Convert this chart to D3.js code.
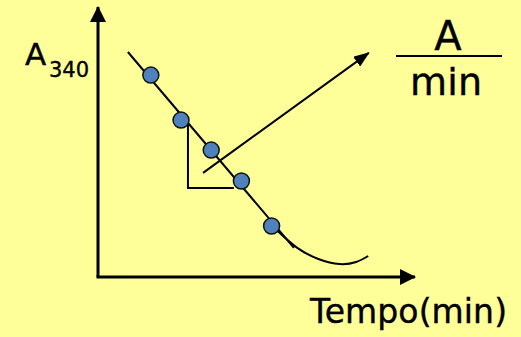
<!DOCTYPE html>
<html>
<head>
<meta charset="utf-8">
<script src="https://cdn.jsdelivr.net/npm/d3@7"></script>
<style>
  html, body { margin: 0; padding: 0; background: #ffff99; }
  svg { display: block; }
  text { font-family: "Comic Sans MS", "DejaVu Sans", sans-serif; fill: #000; stroke: #000; stroke-width: 0.4; }
</style>
</head>
<body>
<svg id="chart"></svg>
<script>
// measured points (time, absorbance at 340 nm)
const tempo = [1.75, 2.75, 3.75, 4.75, 5.75];
const absorb = [6.73, 5.23, 4.23, 3.2, 1.7];

// fitted straight line
const fitT = [0.99, 6.49];
const fitA = [7.5, 0.97];

// curve after the linear part
const curveT = [5.95, 6.6, 7.3, 8.0, 8.55, 8.95];
const curveA = [1.53, 0.97, 0.6, 0.43, 0.5, 0.7];

// slope triangle
const triT = [2.98, 2.98, 4.5];
const triA = [5.07, 2.97, 2.97];

// arrow pointing to the units
const arrowT = [3.48, 8.97];
const arrowA = [3.47, 7.47];

const w = 521, h = 337;

let x = d3.scaleLinear().domain([0, 10.5]).range([98, 415]);
let y = d3.scaleLinear().domain([0, 9]).range([277, 7]);

let svg = d3.select("#chart").attr("width", w).attr("height", h);

svg.append("rect").attr("width", w).attr("height", h).attr("fill", "#ffff99");

let defs = svg.append("defs");
defs.append("marker")
  .attr("id", "axisHead")
  .attr("viewBox", "0 0 16 16")
  .attr("refX", 15).attr("refY", 8)
  .attr("markerUnits", "userSpaceOnUse")
  .attr("markerWidth", 16).attr("markerHeight", 16)
  .attr("orient", "auto")
  .append("path").attr("d", "M0,0 L16,8 L0,16 Z").attr("fill", "#000");
defs.append("marker")
  .attr("id", "smallHead")
  .attr("viewBox", "0 0 16 12")
  .attr("refX", 15).attr("refY", 6)
  .attr("markerUnits", "userSpaceOnUse")
  .attr("markerWidth", 16).attr("markerHeight", 12)
  .attr("orient", "auto")
  .append("path").attr("d", "M0,0 L16,6 L0,12 Z").attr("fill", "#000");

/* axes */
svg.append("line")
  .attr("x1", x(0)).attr("y1", y(0))
  .attr("x2", x(0)).attr("y2", y(9))
  .attr("stroke", "#000").attr("stroke-width", 3)
  .attr("marker-end", "url(#axisHead)");
svg.append("line")
  .attr("x1", x(0) - 1.5).attr("y1", y(0))
  .attr("x2", x(10.5)).attr("y2", y(0))
  .attr("stroke", "#000").attr("stroke-width", 3)
  .attr("marker-end", "url(#axisHead)");

let line = d3.line().x(d => x(d[0])).y(d => y(d[1]));

/* fitted line */
svg.append("path")
  .attr("d", line(d3.zip(fitT, fitA)))
  .attr("fill", "none").attr("stroke", "#000").attr("stroke-width", 2);

/* curve */
svg.append("path")
  .attr("d", line.curve(d3.curveNatural)(d3.zip(curveT, curveA)))
  .attr("fill", "none").attr("stroke", "#000").attr("stroke-width", 2);
line.curve(d3.curveLinear);

/* slope triangle */
svg.append("path")
  .attr("d", line(d3.zip(triT, triA)))
  .attr("fill", "none").attr("stroke", "#000").attr("stroke-width", 2);

/* arrow */
svg.append("path")
  .attr("d", line(d3.zip(arrowT, arrowA)))
  .attr("fill", "none").attr("stroke", "#000").attr("stroke-width", 2)
  .attr("marker-end", "url(#smallHead)");

/* points */
svg.selectAll("circle.pt")
  .data(d3.zip(tempo, absorb))
  .enter()
  .append("circle")
  .attr("class", "pt")
  .attr("cx", d => x(d[0]))
  .attr("cy", d => y(d[1]))
  .attr("r", 8)
  .attr("fill", "#4f81bd")
  .attr("stroke", "#111")
  .attr("stroke-width", 1.5);

/* labels */
svg.append("text").attr("x", 25).attr("y", 65)
  .attr("font-size", 31).text("A");
svg.append("text").attr("x", 49).attr("y", 77)
  .attr("font-size", 21).text("340");

svg.append("text").attr("x", 310).attr("y", 323)
  .attr("font-size", 33).attr("textLength", 197).text("Tempo(min)");

svg.append("text").attr("x", 448).attr("y", 50)
  .attr("text-anchor", "middle").attr("font-size", 40).text("A");
svg.append("line")
  .attr("x1", 396).attr("y1", 56).attr("x2", 502).attr("y2", 56)
  .attr("stroke", "#000").attr("stroke-width", 2);
svg.append("text").attr("x", 410).attr("y", 95)
  .attr("font-size", 38).attr("textLength", 72).text("min");
</script>
</body>
</html>
